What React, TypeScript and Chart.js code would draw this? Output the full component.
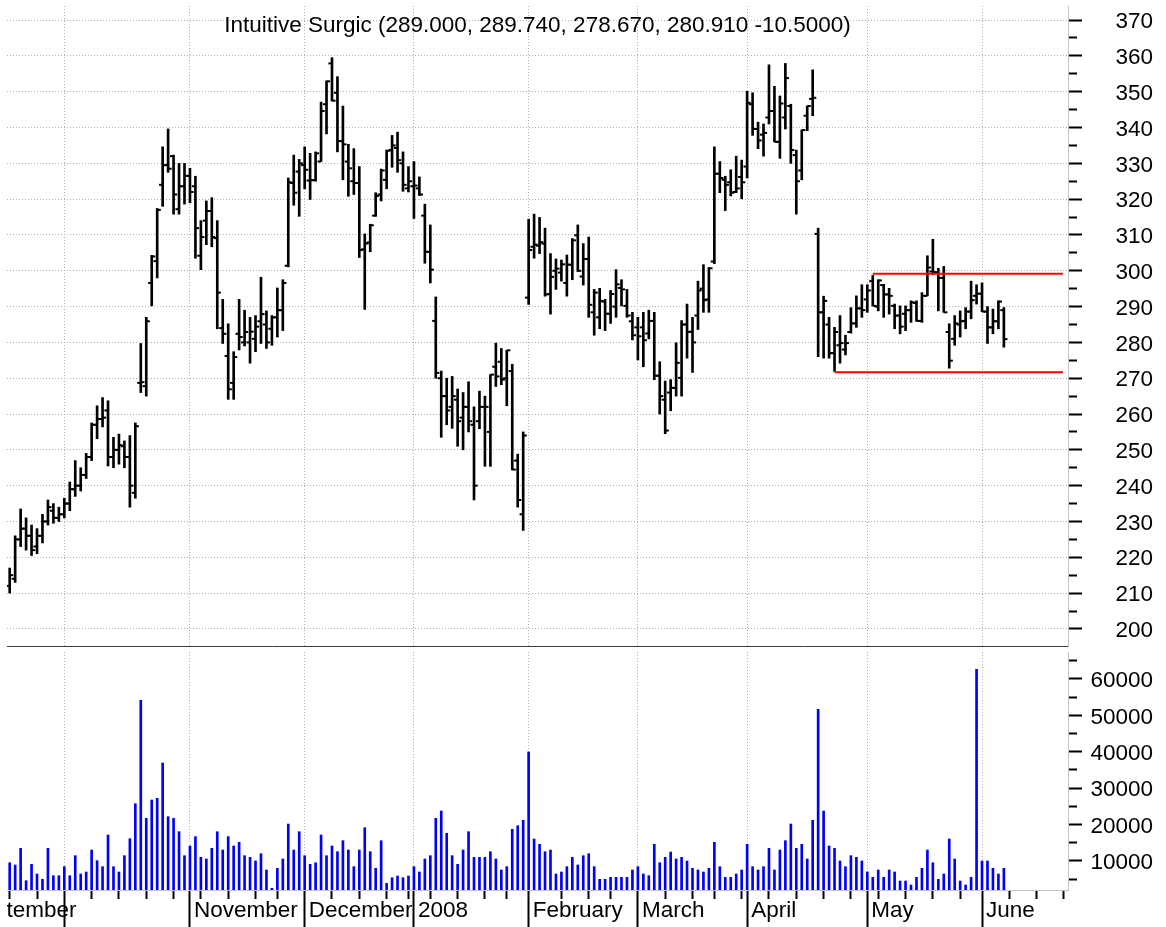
import React, { useEffect, useRef } from 'react';
import { Chart, registerables } from 'chart.js';

Chart.register(...registerables);

const FONT_FAMILY = "'Liberation Sans', Arial, Helvetica, sans-serif";
const FONT_SIZE = 22.5;
const TITLE = 'Intuitive Surgic (289.000, 289.740, 278.670, 280.910 -10.5000)';

// Daily bars, index 0 = 17 Sep 2007 ... index 182 = 5 Jun 2008
const OPEN = [
  212, 214, 225, 228, 226, 223, 226, 230, 233, 231,
  232, 235, 239, 240, 243, 248, 257, 258.6, 261, 248,
  250, 251, 248, 238, 268.7, 267.8, 296.6, 302.7, 324, 329.5,
  332, 317.2, 323.6, 326.5, 323.6, 304.2, 314, 316.7, 309.1, 284,
  276.2, 268.7, 282.4, 280, 280, 281, 285.9, 285, 283.8, 287,
  289, 301.4, 324.5, 327.7, 329.5, 325.2, 325.3, 330.5, 346.5, 357.9,
  349.7, 336.2, 330.5, 325, 324.5, 306, 307.9, 315.4, 321.3, 325.4,
  333.7, 334.3, 330, 323, 323.6, 323, 315.4, 305.3, 286, 270,
  265, 262, 264, 259, 262, 257, 258, 262, 255, 273.2,
  274.6, 270, 272, 247, 232, 292.5, 306.7, 307, 307.6, 293.5,
  300, 299.5, 296.6, 301.7, 309.9, 298.4, 303.3, 288.4, 287, 291.4,
  288, 290, 295.2, 290.2, 285.9, 284.2, 284.2, 282.5, 286, 270.7,
  264, 266, 267.3, 270.1, 285, 283, 287.5, 295, 292, 302.6,
  327.1, 325.4, 324.7, 322, 326.2, 329.1, 346.5, 339.6, 338, 342.8,
  344.6, 336, 342.8, 346, 332.3, 328, 343.3, 348, 310.3, 288.4,
  285, 277, 279.2, 278, 282.9, 285.3, 289.5, 292, 297.1, 290,
  296, 293.4, 290.2, 287.5, 288, 289, 291, 286, 293, 299.8,
  299.6, 298, 282.9, 281, 285, 286, 288.6, 293, 293.6, 288.6,
  284.2, 285.9, 289,
];
const HIGH = [
  217, 226, 233.5, 231, 229, 228, 232, 236, 235, 234,
  236.5, 241, 247, 245, 249, 257.5, 262.3, 264.6, 263.7, 253.5,
  254.4, 252.5, 254, 257.5, 279.7, 287, 304.3, 317.4, 334.6, 339.6,
  332.3, 330, 330, 328.6, 326.4, 314, 319.5, 320.4, 314, 292,
  285.2, 277.4, 292, 289, 287, 287.5, 298.2, 288.8, 287.5, 295.2,
  297.5, 325.9, 332.3, 331.1, 334.6, 332.8, 333.2, 347.1, 353, 359.5,
  354.2, 346, 335.3, 334.1, 329.1, 310.3, 313, 321.8, 328.4, 333.7,
  337.8, 338.7, 333.2, 329.1, 330.5, 326.2, 318.6, 312.8, 292.7, 272,
  270, 270.5, 267, 266, 269, 262, 266.4, 265, 271, 279.8,
  278.3, 277.8, 273.9, 248.8, 255, 314.4, 315.8, 314.9, 311.9, 304.8,
  303.3, 303, 304.4, 309, 312.8, 307.6, 309.4, 294.8, 295.1, 292,
  294.5, 300.3, 297.5, 294.8, 288.4, 287, 288.4, 289, 288.4, 274.6,
  269.2, 269.6, 279.9, 286.1, 290.7, 287, 297.1, 301.7, 300.9, 334.6,
  330.5, 326.4, 328.2, 332, 330.9, 350.1, 349.7, 341.5, 341, 357.5,
  351.5, 348.8, 357.9, 346.5, 333.7, 339.3, 346, 356.1, 311.9, 292.9,
  287, 284.2, 287.5, 282, 289.7, 293, 296.1, 296.1, 298.7, 297.5,
  296.2, 295.1, 290.7, 290.2, 290.2, 291.6, 291.6, 293.9, 304.2, 308.8,
  300.7, 301.2, 285.2, 287.5, 288.8, 289.7, 297.1, 296.1, 296.6, 290,
  289.3, 291.6, 289.74,
];
const LOW = [
  210, 213, 223, 222, 220.5, 221, 224, 229, 229.5, 230,
  231, 233, 237, 238.5, 242, 247, 253.1, 256.4, 245.5, 245,
  246, 245, 234, 236.5, 266, 265, 290.2, 298, 318, 327.5,
  315.8, 315.8, 318.6, 319, 303.5, 300.3, 307.3, 306.7, 283.8, 279.7,
  264.1, 264.1, 277.9, 279, 274.2, 277.4, 279.7, 278.3, 279.2, 281.5,
  283.3, 301.1, 318.3, 315.2, 322.9, 319.9, 325, 330.5, 338.2, 347.4,
  333.2, 325.4, 320.8, 321.3, 303.7, 289.2, 305.3, 315.2, 319.5, 322.9,
  328.9, 327.5, 322.2, 322, 314.6, 321, 302.1, 296.6, 270, 253.5,
  257, 256, 251, 250, 255, 236, 255.9, 245.4, 245.4, 267.7,
  268.2, 262.3, 244.4, 234, 227.5, 290.6, 303.5, 304.8, 292.9, 287.9,
  294.8, 297.1, 292.9, 297.5, 299.8, 296, 287, 282, 283.8, 283.3,
  285.3, 287, 290.2, 287, 280.7, 275.1, 273.2, 281, 269.6, 260,
  254.5, 260.9, 265, 265, 275.6, 271.6, 283.6, 288.4, 288.4, 302,
  321.8, 316.8, 320.9, 321.8, 320.1, 325.9, 337.8, 334.1, 332, 341,
  336, 331.4, 339.6, 330, 315.8, 325.4, 339.1, 343.3, 276, 275.6,
  275.6, 271.9, 274.2, 276.5, 282.6, 284.2, 287, 288.4, 290.2, 288.8,
  287, 287.9, 283.8, 282.4, 283.3, 285.6, 285.9, 285.6, 293, 298.9,
  288.8, 288.4, 272.8, 279.2, 281.5, 283.8, 286.6, 290.7, 288.6, 279.7,
  282.4, 283.8, 278.67,
];
const CLOSE = [
  215, 225, 228, 226, 222, 226, 230, 234, 231, 232,
  235, 239, 240, 243, 248, 257, 258.6, 259, 248, 250,
  251.3, 248, 240, 256.6, 268.9, 285.9, 304, 317, 329.5, 328.5,
  321.3, 323.6, 326.5, 322, 311.9, 309.4, 316.7, 309.4, 293.9, 282.4,
  266.9, 275.9, 281.5, 282.9, 283, 284.4, 287.9, 280, 287, 289,
  296.6, 324.7, 321.8, 330, 328.2, 325.3, 332.8, 344.6, 352.9, 347.5,
  336.2, 335.3, 328.6, 324.5, 305.8, 307.6, 312.7, 320.9, 328, 333.5,
  335, 330.9, 324, 325, 323.8, 321.3, 305.3, 300.3, 271.5, 265,
  261, 265, 258, 262, 258, 240, 262, 262, 271, 270.5,
  269.6, 277.8, 244.5, 236, 254, 305.8, 307.3, 308, 293.4, 298.3,
  300.6, 301.8, 301.7, 308.5, 300, 303.3, 290.5, 293.9, 291.6, 288,
  293.5, 296.2, 294.8, 287.5, 282, 281.7, 280.6, 286, 270.7, 265,
  255.4, 267.3, 274.3, 285, 282.9, 280, 294.5, 291.8, 300.7, 327.1,
  325.9, 324, 321.8, 323, 324.7, 346.9, 339.6, 336.4, 338.5, 344.6,
  336, 346.7, 353.8, 333.7, 325, 339.3, 346, 348.3, 288.4, 291.6,
  277, 282.9, 279.8, 279.8, 285.3, 289.5, 289, 294.5, 290.2, 297.3,
  293.4, 293, 287.5, 284.4, 289, 291.2, 286, 293, 300.9, 299.6,
  298, 288.4, 274.9, 285.3, 285.9, 288.6, 291.8, 293.6, 288.6, 284.2,
  285.9, 291.41, 280.91,
];
const VOLUME = [
  9530, 8900, 13490, 4590, 9090, 6430, 4970, 13490, 5960, 5960,
  8440, 5960, 11460, 6430, 6980, 13020, 10090, 8440, 17140, 8440,
  6980, 11460, 16130, 25740, 54140, 21730, 26760, 27220, 36920, 22170,
  21730, 18050, 11460, 14120, 16680, 11010, 10550, 13490, 18050, 13020,
  16680, 14120, 15140, 11460, 11010, 10000, 12000, 7530, 2500, 7990,
  10550, 20160, 13020, 18050, 11460, 9090, 9530, 17140, 11460, 14120,
  12550, 15580, 13020, 8440, 13020, 19150, 12550, 7990, 15580, 3870,
  5410, 5880, 5410, 5880, 8440, 6980, 10550, 11460, 21730, 23730,
  17610, 11460, 9090, 13020, 18050, 11010, 11010, 11010, 12550, 10550,
  7530, 8440, 18710, 19700, 21180, 39940, 16040, 14590, 12550, 13020,
  6430, 6980, 8440, 11010, 8900, 11460, 12000, 8440, 4970, 4970,
  5520, 5520, 5520, 5520, 7530, 8440, 6430, 5960, 14590, 9530,
  11010, 12470, 10550, 11010, 10000, 7990, 7530, 6980, 7990, 15140,
  8440, 5520, 5520, 6430, 7530, 14590, 8440, 7530, 8440, 13490,
  7530, 13020, 15580, 20160, 13490, 14590, 10550, 21180, 51670, 23730,
  14120, 13490, 10000, 8440, 11460, 11010, 10000, 6980, 5520, 7530,
  5520, 7530, 6980, 4500, 4500, 3400, 5520, 7990, 13020, 9530,
  4970, 6430, 16040, 10550, 4500, 3400, 5520, 62660, 10000, 10000,
  7990, 6430, 7990,
];

// Month label anchors (trading-day index) and week starts for the time axis
const MONTH_STARTS = [
  { label: 'September', index: -8.65, show: true },
  { label: 'October', index: 10, show: false },
  { label: 'November', index: 33, show: true },
  { label: 'December', index: 54, show: true },
  { label: '2008', index: 74, show: true },
  { label: 'February', index: 95, show: true },
  { label: 'March', index: 115, show: true },
  { label: 'April', index: 135, show: true },
  { label: 'May', index: 157, show: true },
  { label: 'June', index: 178, show: true },
];
const WEEK_STARTS = [
  0, 5, 15, 20, 25, 30, 35, 40, 45, 49, 59, 64, 69, 73, 77, 82, 87, 91,
  101, 106, 110, 120, 125, 129, 134, 139, 144, 149, 154, 159, 164, 169, 174,
  183, 188, 193,
];

const PRICE_TICKS = [200, 210, 220, 230, 240, 250, 260, 270, 280, 290, 300, 310, 320, 330, 340, 350, 360, 370];
const PRICE_MINOR_TICKS = [205, 215, 225, 235, 245, 255, 265, 275, 285, 295, 305, 315, 325, 335, 345, 355, 365];
const VOLUME_TICKS = [10000, 20000, 30000, 40000, 50000, 60000];
const VOLUME_MINOR_TICKS = [5000, 15000, 25000, 35000, 45000, 55000, 65000];

// Horizontal support / resistance lines: [start index, end index], level
const RESISTANCE_X = [158, 192.8];
const RESISTANCE_LEVEL = 299.2;
const SUPPORT_X = [151, 192.8];
const SUPPORT_LEVEL = 271.7;

const X_MIN = -0.494;
const X_MAX = 193.74;
const PRICE_MIN = 195.23;
const PRICE_MAX = 373.93;
const VOL_MIN = 2033;
const VOL_MAX = 67413;

const TICK_SHIFT = 0.33;
const GRID_GRAY = '#b0b0b0';
const AXIS_GRAY = '#c4c4c4';

const titlePlugin = {
  id: 'priceTitle',
  afterDraw(chart: any) {
    const { ctx, chartArea } = chart;
    ctx.save();
    ctx.font = `${FONT_SIZE}px ${FONT_FAMILY}`;
    ctx.fillStyle = '#000';
    ctx.textAlign = 'center';
    ctx.textBaseline = 'alphabetic';
    ctx.fillText(TITLE, (chartArea.left + chartArea.right) / 2, 31.5);
    ctx.restore();
  },
};

function yAxis(min: number, max: number, major: number[], minor: number[], showGrid: boolean) {
  return {
    type: 'linear',
    position: 'right',
    min,
    max,
    bounds: 'data',
    afterBuildTicks: (axis: any) => {
      axis.ticks = [
        ...major.map((v) => ({ value: v, kind: 'major' })),
        ...minor.map((v) => ({ value: v, kind: 'minor' })),
      ].sort((a, b) => a.value - b.value);
    },
    afterFit: (axis: any) => {
      axis.width = 85;
      axis.paddingTop = 0;
      axis.paddingBottom = 0;
    },
    grid: {
      drawOnChartArea: showGrid,
      offset: false,
      color: (c: any) => (c.tick && c.tick.kind === 'major' ? GRID_GRAY : 'rgba(0,0,0,0)'),
      lineWidth: 1,
      tickLength: 14,
      tickWidth: 2,
      tickColor: '#000',
      tickBorderDash: (c: any) => (c.tick && c.tick.kind === 'major' ? [] : [8, 40]),
    },
    border: { display: true, color: AXIS_GRAY, width: 1, dash: [1, 2] },
    ticks: {
      autoSkip: false,
      crossAlign: 'far',
      padding: 8,
      labelOffset: 2,
      color: '#000',
      font: { family: FONT_FAMILY, size: FONT_SIZE },
      callback: (value: number, index: number, ticks: any[]) =>
        ticks[index] && ticks[index].kind === 'major' ? String(value) : '',
    },
  };
}

function baseOptions(leftPad: number) {
  return {
    responsive: false,
    maintainAspectRatio: false,
    animation: false,
    devicePixelRatio: 1,
    events: [],
    layout: { padding: { left: leftPad, right: 13, top: 0, bottom: 0 } },
    plugins: { legend: { display: false }, tooltip: { enabled: false }, title: { display: false } },
  };
}

export default function App() {
  const priceRef = useRef<HTMLCanvasElement>(null);
  const volRef = useRef<HTMLCanvasElement>(null);

  useEffect(() => {
    const idx = OPEN.map((_, i) => i);

    const priceChart = new Chart(priceRef.current as HTMLCanvasElement, {
      type: 'bar',
      data: {
        datasets: [
          {
            type: 'line',
            data: SUPPORT_X.map((x) => ({ x, y: SUPPORT_LEVEL })),
            borderColor: '#ff0000',
            borderWidth: 2,
            pointRadius: 0,
            fill: false,
            tension: 0,
          },
          {
            type: 'line',
            data: RESISTANCE_X.map((x) => ({ x, y: RESISTANCE_LEVEL })),
            borderColor: '#ff0000',
            borderWidth: 2,
            pointRadius: 0,
            fill: false,
            tension: 0,
          },
          {
            type: 'line',
            data: idx.map((i) => ({ x: i - TICK_SHIFT, y: OPEN[i] })),
            showLine: false,
            pointStyle: 'line',
            pointRadius: 1.8,
            pointBorderWidth: 2,
            pointBorderColor: '#000',
            pointBackgroundColor: '#000',
          },
          {
            type: 'line',
            data: idx.map((i) => ({ x: i + TICK_SHIFT, y: CLOSE[i] })),
            showLine: false,
            pointStyle: 'line',
            pointRadius: 1.8,
            pointBorderWidth: 2,
            pointBorderColor: '#000',
            pointBackgroundColor: '#000',
          },
          {
            type: 'bar',
            data: idx.map((i) => ({ x: i, y: [LOW[i], HIGH[i]] })),
            backgroundColor: '#000',
            borderWidth: 0,
            barThickness: 2,
            grouped: false,
          },
        ],
      } as any,
      options: {
        ...baseOptions(7),
        scales: {
          x: {
            type: 'linear',
            min: X_MIN,
            max: X_MAX,
            offset: false,
            bounds: 'data',
            afterBuildTicks: (axis: any) => {
              axis.ticks = MONTH_STARTS.filter((m) => m.index >= 0).map((m) => ({ value: m.index }));
            },
            afterFit: (axis: any) => {
              axis.height = 1;
              axis.paddingLeft = 0;
              axis.paddingRight = 0;
            },
            grid: { color: GRID_GRAY, lineWidth: 1, drawTicks: false, offset: false },
            border: { display: true, color: '#404040', width: 1, dash: [1, 2] },
            ticks: { display: false, autoSkip: false },
          },
          y: yAxis(PRICE_MIN, PRICE_MAX, PRICE_TICKS, PRICE_MINOR_TICKS, true),
        },
      } as any,
      plugins: [titlePlugin],
    });

    const volumeChart = new Chart(volRef.current as HTMLCanvasElement, {
      type: 'bar',
      data: {
        datasets: [
          {
            type: 'bar',
            data: idx.map((i) => ({ x: i, y: VOLUME[i] })),
            backgroundColor: '#0000ff',
            borderWidth: 0,
            barThickness: 2,
            grouped: false,
          },
        ],
      } as any,
      options: {
        ...baseOptions(0),
        scales: {
          x: {
            type: 'linear',
            min: X_MIN,
            max: X_MAX,
            offset: false,
            bounds: 'data',
            afterBuildTicks: (axis: any) => {
              axis.ticks = [
                ...MONTH_STARTS.map((m) => ({ value: m.index, kind: 'month', text: m.show ? m.label : '' })),
                ...WEEK_STARTS.map((w) => ({ value: w, kind: 'week', text: '' })),
              ].sort((a, b) => a.value - b.value);
            },
            afterFit: (axis: any) => {
              axis.height = 37;
              axis.paddingLeft = 0;
              axis.paddingRight = 0;
            },
            grid: {
              offset: false,
              color: (c: any) => (c.tick && c.tick.kind === 'month' ? GRID_GRAY : 'rgba(0,0,0,0)'),
              lineWidth: 1,
              tickLength: 37,
              tickWidth: 2,
              tickColor: '#000',
              tickBorderDash: (c: any) => (c.tick && c.tick.kind === 'month' ? [] : [8, 60]),
            },
            border: { display: true, color: AXIS_GRAY, width: 1, dash: [1, 2] },
            ticks: {
              autoSkip: false,
              maxRotation: 0,
              minRotation: 0,
              align: 'start',
              labelOffset: 4,
              padding: -30,
              color: '#000',
              font: { family: FONT_FAMILY, size: FONT_SIZE },
              callback: (value: number, index: number, ticks: any[]) => (ticks[index] ? ticks[index].text : ''),
            },
          },
          y: yAxis(VOL_MIN, VOL_MAX, VOLUME_TICKS, VOLUME_MINOR_TICKS, false),
        },
      } as any,
    });

    return () => {
      priceChart.destroy();
      volumeChart.destroy();
    };
  }, []);

  return (
    <div
      style={{
        position: 'absolute',
        left: 0,
        top: 0,
        width: 1166,
        height: 927,
        background: '#ffffff',
        overflow: 'hidden',
      }}
    >
      <canvas
        ref={priceRef}
        width={1166}
        height={652}
        style={{ position: 'absolute', left: 0, top: 0, width: 1166, height: 652, display: 'block' }}
      />
      <canvas
        ref={volRef}
        width={1159}
        height={275}
        style={{ position: 'absolute', left: 7, top: 652, width: 1159, height: 275, display: 'block' }}
      />
    </div>
  );
}
